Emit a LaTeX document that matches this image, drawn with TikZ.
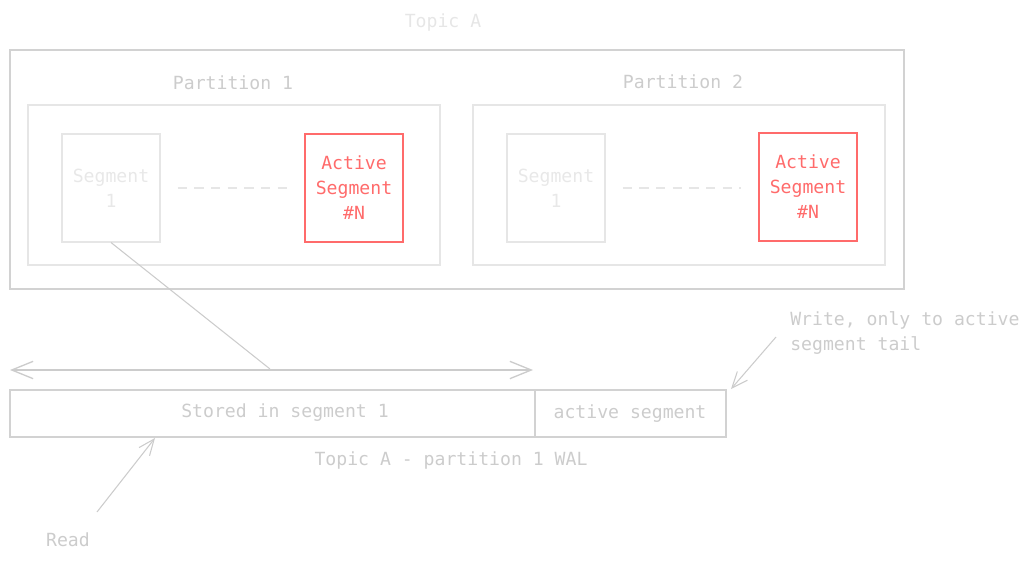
\documentclass[tikz,border=0pt]{standalone}
\usepackage{fontspec}
\setmainfont{DejaVu Sans Mono}
\usetikzlibrary{arrows.meta}
\definecolor{gTopic}{HTML}{E6E6E6}
\definecolor{gLabel}{HTML}{CCCCCC}
\definecolor{gOuter}{HTML}{D2D2D2}
\definecolor{gPart}{HTML}{E6E6E6}
\definecolor{gSeg}{HTML}{E6E6E6}
\definecolor{gSegText}{HTML}{E8E8E8}
\definecolor{gLine}{HTML}{CCCCCC}
\definecolor{redx}{HTML}{FF6B6B}
\begin{document}
\begin{tikzpicture}[x=0.75pt,y=-0.75pt,
  txt/.style={font=\fontsize{13.6}{18.75}\selectfont, inner sep=0pt, align=center},
  outerbox/.style={draw=gOuter, line width=1pt, inner sep=0pt, minimum width=670.5pt, minimum height=179.25pt},
  partbox/.style={draw=gPart, line width=0.8pt, inner sep=0pt, minimum width=309pt, minimum height=120pt},
  segbox/.style={draw=gSeg, line width=0.8pt, inner sep=0pt, minimum width=73.5pt, minimum height=81pt, txt, text=gSegText},
  actbox/.style={draw=redx, line width=0.9pt, inner sep=0pt, minimum width=73.5pt, minimum height=81pt, txt, text=redx},
  dots/.style={draw=gSeg, line width=0.8pt, dash pattern=on 7pt off 5.5pt, shorten <=12.75pt, shorten >=12.75pt},
  walbox/.style={draw=gOuter, line width=0.9pt, inner sep=0pt, minimum height=35.25pt},
  conn/.style={draw=gLine, line width=0.8pt},
  bigarrow/.style={draw=gLine, line width=1pt, {Straight Barb[length=16pt,width=13pt]}-{Straight Barb[length=16pt,width=13pt]}},
  smallarrow/.style={draw=gLine, line width=0.8pt, -{Straight Barb[length=12pt,width=10pt]}}
]
\useasboundingbox (0,0) rectangle (1031,564);

% Topic container
\node[txt, text=gTopic] (topic) at (443,22) {Topic A};
\node[outerbox] (outer) at (457,169.5) {};

% Partition 1
\node[txt, text=gLabel] (p1lbl) at (233,83) {Partition 1};
\node[partbox] (p1) at (234,185) {};
\node[segbox] (s1a) at (111,188) {Segment\\1};
\node[actbox] (a1) at (354,188) {Active\\Segment\\\#N};
\draw[dots] (s1a) -- (a1);

% Partition 2
\node[txt, text=gLabel] (p2lbl) at (683,82) {Partition 2};
\node[partbox] (p2) at (679,185) {};
\node[segbox] (s1b) at (556,188) {Segment\\1};
\node[actbox] (a2) at (808,187) {Active\\Segment\\\#N};
\draw[dots] (s1b.east) -- (a2.west |- s1b.east);

% WAL
\node[walbox, minimum width=393.75pt] (stored) at (272.5,413.5) {};
\node[walbox, minimum width=143.25pt] (actseg) at (630.5,413.5) {};
\node[txt, text=gLabel] (storedlbl) at (285,413) {Stored in segment 1};
\node[txt, text=gLabel] (actseglbl) at (630,414) {active segment};
\node[txt, text=gLabel] (wallbl) at (451,460) {Topic A - partition 1 WAL};

% range arrow
\coordinate (rangeL) at (10,370);
\coordinate (rangeR) at (533,370);
\coordinate (hit) at (270,369);
\draw[bigarrow] (rangeL) -- (rangeR);
\draw[conn] (s1a.south) -- (hit);

% write
\node[txt, text=gLabel, align=left, anchor=west] (writelbl) at (790,333.5) {Write, only to active\\segment tail};
\coordinate (wstart) at (776,337);
\coordinate (wend) at (731,389);
\draw[smallarrow] (wstart) -- (wend);

% read
\node[txt, text=gLabel] (readlbl) at (68,540) {Read};
\coordinate (rstart) at (97,512);
\coordinate (rend) at (155,438);
\draw[smallarrow] (rstart) -- (rend);
\end{tikzpicture}
\end{document}
